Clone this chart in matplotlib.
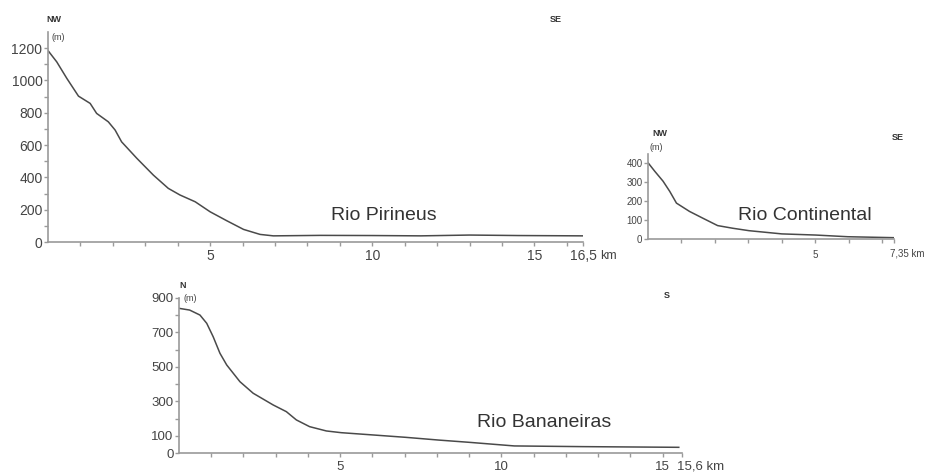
import matplotlib
matplotlib.use("Agg")
import matplotlib.pyplot as plt
import numpy as np

plt.rcParams['font.family'] = ['Liberation Sans', 'DejaVu Sans']

# ---- Data ----
pir_km = [0.0, 0.27, 0.58, 0.94, 1.3, 1.5, 1.86, 2.07, 2.27, 2.74, 3.25, 3.71, 4.07, 4.54,
          5.0, 5.51, 6.03, 6.54, 6.95, 8.4, 10.0, 11.5, 13.0, 14.5, 16.5]
pir_m = [1185, 1115, 1013, 903, 858, 796, 744, 693, 620, 518, 414, 332, 291, 249,
         187, 132, 78, 47, 38, 41, 40, 38, 43, 40, 38]

con_km = [0.0, 0.2, 0.45, 0.65, 0.85, 1.24, 1.64, 2.08, 2.53, 3.02, 4.0, 5.0, 5.97, 7.35]
con_m = [404, 359, 306, 252, 190, 146, 110, 71, 57, 44, 27, 21, 12, 7]

ban_km = [0.0, 0.33, 0.65, 0.86, 1.06, 1.27, 1.48, 1.89, 2.3, 2.92, 3.33, 3.64, 4.05, 4.57,
          5.03, 6.0, 7.03, 8.06, 9.0, 9.4, 10.4, 12.5, 15.5]
ban_m = [840, 830, 801, 753, 675, 579, 511, 414, 347, 279, 240, 192, 153, 128,
         118, 105, 91, 75, 62, 56, 41, 37, 33]

pir_yticks = [0, 200, 400, 600, 800, 1000, 1200]
con_yticks = [0, 100, 200, 300, 400]
ban_yticks = [0, 100, 300, 500, 700, 900]

W, H = 927, 473
fig = plt.figure(figsize=(W / 100, H / 100), dpi=100)

LINE = '#4a4a4a'
AXC = '#9a9a9a'
TXT = '#444444'
PT = 0.72  # points per pixel at dpi 100


def ax_px(left, right, bottom, top):
    return fig.add_axes([left / W, 1 - bottom / H, (right - left) / W, (bottom - top) / H])


def style(ax, fs, pad_x, pad_y):
    for s in ['top', 'right']:
        ax.spines[s].set_visible(False)
    for s in ['left', 'bottom']:
        ax.spines[s].set_color(AXC)
        ax.spines[s].set_linewidth(1.2)
    ax.tick_params(axis='both', which='both', direction='out', color=AXC, width=1.0,
                   labelcolor=TXT, labelsize=fs, length=3)
    ax.tick_params(axis='x', pad=pad_x)
    ax.tick_params(axis='y', pad=pad_y)
    ax.set_facecolor('none')


def ftext(x, y, s, **kw):
    fig.text(x / W, 1 - y / H, s, **kw)


def end_label(ax, xval, s, dx_px, dy_px, fs):
    ax.annotate(s, xy=(xval, 0), xycoords='data', xytext=(dx_px * PT, -dy_px * PT),
                textcoords='offset points', ha='left', va='top', fontsize=fs, color=TXT)


# ---- Rio Pirineus ----
ax1 = ax_px(48, 583, 242, 32)
ax1.plot(pir_km, pir_m, color=LINE, lw=1.1)
ax1.set_xlim(0, 16.5)
ax1.set_ylim(0, 1300)
ax1.set_xticks([5, 10, 15, 16.5])
ax1.set_xticklabels(['5', '10', '15', '16,5'])
ax1.set_xticks(np.arange(1, 17), minor=True)
ax1.set_yticks(pir_yticks)
ax1.set_yticks(np.arange(100, 1300, 100), minor=True)
style(ax1, 10, 2, 1)
end_label(ax1, 16.5, 'km', 17, 8, 9)

ftext(54, 20, 'NW', fontsize=6.5, fontweight='bold', color='#333333', ha='center', va='center')
ftext(52, 37, '(m)', fontsize=6.5, color=TXT, ha='left', va='center')
ftext(556, 20, 'SE', fontsize=6.5, fontweight='bold', color='#333333', ha='center', va='center')
ftext(331, 215, 'Rio Pirineus', fontsize=14, color='#333333', ha='left', va='center')

# ---- Rio Continental ----
ax2 = ax_px(648, 894, 239, 154)
ax2.plot(con_km, con_m, color=LINE, lw=1.1)
ax2.set_xlim(0, 7.35)
ax2.set_ylim(0, 450)
ax2.set_xticks([5, 7.35])
ax2.set_xticklabels(['5', ''])
ax2.set_xticks(np.arange(1, 8), minor=True)
ax2.set_yticks(con_yticks)
style(ax2, 7, 5, 1)
end_label(ax2, 7.35, '7,35 km', -4, 10, 7)

ftext(660, 133, 'NW', fontsize=6.5, fontweight='bold', color='#333333', ha='center', va='center')
ftext(650, 147, '(m)', fontsize=6.5, color=TXT, ha='left', va='center')
ftext(898, 137, 'SE', fontsize=6.5, fontweight='bold', color='#333333', ha='center', va='center')
ftext(738, 215, 'Rio Continental', fontsize=14, color='#333333', ha='left', va='center')

# ---- Rio Bananeiras ----
ax3 = ax_px(179, 682, 453, 298)
ax3.plot(ban_km, ban_m, color=LINE, lw=1.1)
ax3.set_xlim(0, 15.6)
ax3.set_ylim(0, 900)
ax3.set_xticks([5, 10, 15, 15.6])
ax3.set_xticklabels(['5', '10', '15', ''])
ax3.set_xticks(np.arange(1, 16), minor=True)
ax3.set_yticks(ban_yticks)
ax3.set_yticks(np.arange(100, 900, 100), minor=True)
style(ax3, 9.5, 2.5, 1)
end_label(ax3, 15.6, '15,6 km', -5, 7, 9.5)

ftext(183, 285, 'N', fontsize=6.5, fontweight='bold', color='#333333', ha='center', va='center')
ftext(183, 298, '(m)', fontsize=6.5, color=TXT, ha='left', va='center')
ftext(667, 295, 'S', fontsize=6.5, fontweight='bold', color='#333333', ha='center', va='center')
ftext(477, 422, 'Rio Bananeiras', fontsize=14, color='#333333', ha='left', va='center')

fig.savefig('out.png', dpi=100, facecolor='white')
